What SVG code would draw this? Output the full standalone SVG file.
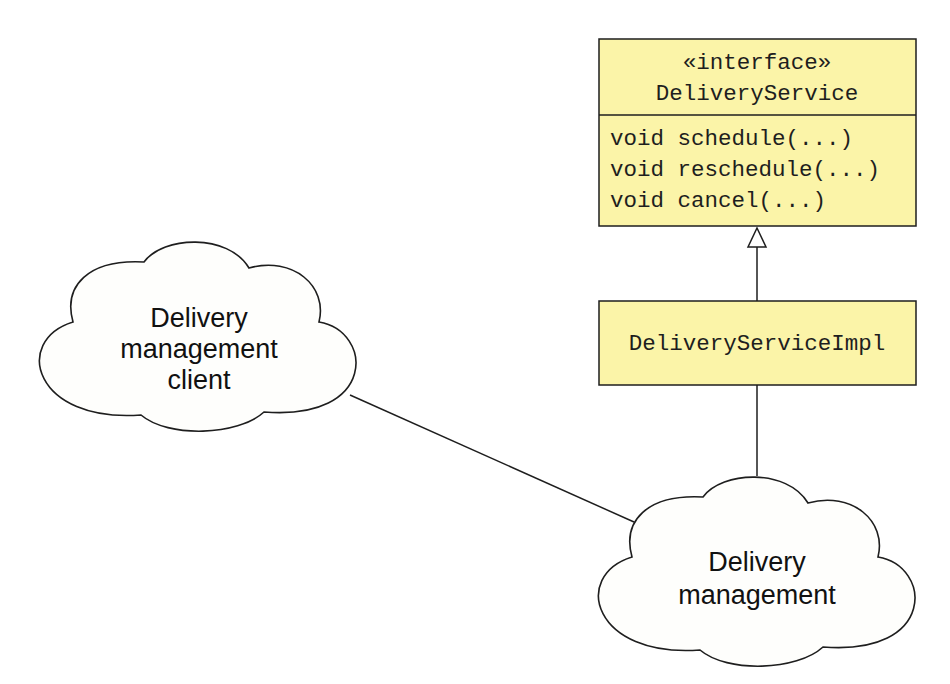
<svg xmlns="http://www.w3.org/2000/svg" width="950" height="684" viewBox="0 0 950 684">
<style>
.box{fill:#fbf4a8;stroke:#1e1e1e;stroke-width:1.5}
.cloud{fill:#fefefc;stroke:#1e1e1e;stroke-width:1.6}
.mono{font-family:"Liberation Mono","Courier New",monospace;font-size:22.5px;fill:#1e1e1e}
.sans{font-family:"Liberation Sans",Arial,sans-serif;font-size:27px;fill:#111;text-anchor:middle}
.conn{stroke:#1e1e1e;stroke-width:1.5;fill:none}
</style>
<defs>
<path id="cloudShape" d="M 35 81 C 25 45, 50 18, 106 21 C 125 -5, 190 -8, 211 27 C 255 15, 290 45, 281 81 C 335 90, 340 180, 226 171 C 200 195, 130 197, 103 174 C -4 182, -26 100, 35 81 Z"/>
</defs>
<rect width="950" height="684" fill="#ffffff"/>
<g id="connectors">
<line class="conn" x1="350" y1="395" x2="634" y2="522"/>
<line class="conn" x1="757" y1="385" x2="757" y2="476"/>
<line class="conn" x1="757" y1="247" x2="757" y2="301"/>
<polygon points="757,228 766,247 748,247" fill="#ffffff" stroke="#1e1e1e" stroke-width="1.5"/>
</g>
<g id="DeliveryService">
<rect class="box" x="599" y="39" width="317" height="187"/>
<line x1="599" y1="115" x2="916" y2="115" stroke="#1e1e1e" stroke-width="1.5"/>
<text class="mono" x="757" y="69" text-anchor="middle">«interface»</text>
<text class="mono" x="757" y="100" text-anchor="middle">DeliveryService</text>
<text class="mono" x="610" y="145">void schedule(...)</text>
<text class="mono" x="610" y="176">void reschedule(...)</text>
<text class="mono" x="610" y="207">void cancel(...)</text>
</g>
<g id="DeliveryServiceImpl">
<rect class="box" x="599" y="301" width="317" height="84"/>
<text class="mono" x="757" y="350" text-anchor="middle">DeliveryServiceImpl</text>
</g>
<g id="DeliveryManagementClient">
<use href="#cloudShape" class="cloud" transform="translate(38,241)"/>
<text class="sans" x="199" y="327">Delivery</text>
<text class="sans" x="199" y="358">management</text>
<text class="sans" x="199" y="389">client</text>
</g>
<g id="DeliveryManagement">
<use href="#cloudShape" class="cloud" transform="translate(597,476)"/>
<text class="sans" x="757" y="571">Delivery</text>
<text class="sans" x="757" y="604">management</text>
</g>
</svg>
